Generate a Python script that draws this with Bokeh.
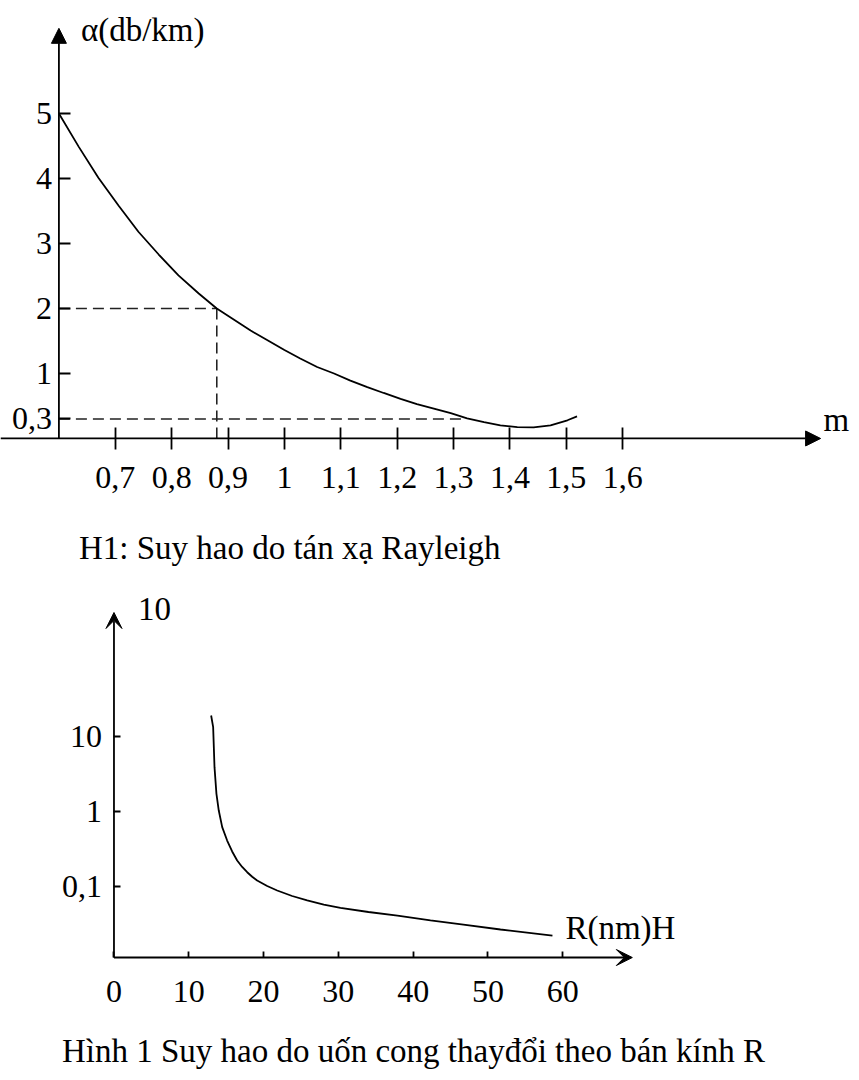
from bokeh.plotting import figure
from bokeh.models import (Range1d, LinearAxis, LogAxis, FixedTicker, Arrow,
                          NormalHead, VeeHead, Label)
from bokeh.layouts import column
from bokeh.embed import file_html
from bokeh.resources import INLINE

# ---------------- Chart 1 data: Rayleigh scattering loss ----------------
m_vals = [0.60, 0.635, 0.670, 0.706, 0.741, 0.777, 0.812, 0.848,
          0.88, 0.91, 0.94, 0.97, 1.0, 1.028, 1.058, 1.088, 1.117, 1.147,
          1.176, 1.206, 1.235, 1.265, 1.295, 1.324, 1.354, 1.383, 1.413,
          1.442, 1.472, 1.502, 1.519]
alpha_vals = [5.0, 4.49, 4.01, 3.58, 3.18, 2.83, 2.51, 2.23,
              2.0, 1.83, 1.66, 1.51, 1.36, 1.23, 1.10, 1.00, 0.89, 0.79,
              0.70, 0.61, 0.53, 0.46, 0.39, 0.31, 0.25, 0.20, 0.175,
              0.17, 0.20, 0.28, 0.34]
x1_ticks = [0.7, 0.8, 0.9, 1.0, 1.1, 1.2, 1.3, 1.4, 1.5, 1.6]
x1_labels = ["0,7", "0,8", "0,9", "1", "1,1", "1,2", "1,3", "1,4", "1,5", "1,6"]
y1_ticks = [5, 4, 3, 2, 1, 0.3]
y1_labels = ["5", "4", "3", "2", "1", "0,3"]
ref_m = [0.88, 1.32]        # guide points on the curve
ref_alpha = [2.0, 0.3]
x1_origin = 0.6
x1_tip = 1.951
y1_tip = 6.31

# ---------------- Chart 2 data: bending loss vs radius ----------------
R_vals = [12.99, 13.26, 13.44, 13.70, 14.01, 14.47, 15.13, 15.80, 16.47,
          17.14, 17.81, 18.48, 19.14, 20.48, 21.82, 23.82, 25.83, 28.05,
          30.28, 34.02, 37.90, 42.31, 46.72, 51.67, 58.62]
loss_vals = [19.05, 13.3, 3.90, 1.72, 1.03, 0.618, 0.410, 0.293, 0.222,
             0.182, 0.155, 0.135, 0.120, 0.1016, 0.0885, 0.0747, 0.0651, 0.0575,
             0.0520, 0.0457, 0.0410, 0.0354, 0.0310, 0.0267, 0.0222]
x2_ticks = [0, 10, 20, 30, 40, 50, 60]
x2_labels = ["0", "10", "20", "30", "40", "50", "60"]
y2_ticks = [10, 1, 0.1]
y2_labels = ["10", "1", "0,1"]
y2_base = 0.0113
x2_tip = 69.3
y2_tip = 450

FONT = "Liberation Serif"
FS = "33px"
TICK_FS = "32px"
W = 851


def base_fig(h, xr, yr, **kw):
    p = figure(width=W, height=h, x_range=xr, y_range=yr,
               output_backend="svg", toolbar_location=None,
               x_axis_location=None, y_axis_location=None,
               min_border=0, title=None, **kw)
    p.outline_line_color = None
    p.background_fill_color = "white"
    p.border_fill_color = "white"
    p.grid.visible = False
    return p


def style_axis(ax, tin, tout, standoff):
    ax.axis_line_color = None
    ax.major_tick_in = tin
    ax.major_tick_out = tout
    ax.major_tick_line_color = "black"
    ax.major_tick_line_width = 1.8
    ax.minor_tick_line_color = None
    ax.major_label_standoff = standoff
    ax.major_label_text_font = FONT
    ax.major_label_text_font_size = TICK_FS
    ax.major_label_text_color = "black"


def label(p, x, y, text, dx, dy):
    p.add_layout(Label(x=x, y=y, text=text, x_offset=dx, y_offset=dy,
                       text_align="left", text_baseline="middle",
                       text_font=FONT, text_font_size=FS, text_color="black"))


# ================= Figure 1 =================
p1 = base_fig(580, Range1d(0.4964, 2.0058), Range1d(-2.185, 6.738))

xa1 = LinearAxis(fixed_location=0, ticker=FixedTicker(ticks=x1_ticks),
                 major_label_overrides={t: l for t, l in zip(x1_ticks, x1_labels)})
style_axis(xa1, 11, 11, 18)
p1.add_layout(xa1, "below")

ya1 = LinearAxis(fixed_location=x1_origin, ticker=FixedTicker(ticks=y1_ticks),
                 major_label_overrides={t: l for t, l in zip(y1_ticks, y1_labels)})
style_axis(ya1, 12, 0, 7)
p1.add_layout(ya1, "left")

# axis lines with arrow heads
p1.add_layout(Arrow(end=NormalHead(size=15, fill_color="black", line_color="black"),
                    x_start=p1.x_range.start, y_start=0, x_end=x1_tip, y_end=0,
                    line_width=1.8, line_color="black"))
p1.add_layout(Arrow(end=NormalHead(size=15, fill_color="black", line_color="black"),
                    x_start=x1_origin, y_start=0, x_end=x1_origin, y_end=y1_tip,
                    line_width=1.8, line_color="black"))

# dashed guide lines
p1.segment(x0=[x1_origin] * 2, y0=ref_alpha, x1=ref_m, y1=ref_alpha,
           line_dash="11 6", line_color="#222222", line_width=1.6)
p1.segment(x0=ref_m[:1], y0=[0], x1=ref_m[:1], y1=ref_alpha[:1],
           line_dash="11 6", line_color="#222222", line_width=1.6)

# curve
p1.line(m_vals, alpha_vals, line_color="black", line_width=1.8)

label(p1, x1_origin, y1_tip, "α(db/km)", 22, -2)
label(p1, x1_tip, 0, "m", 3, 18)
label(p1, x1_origin, 0, "H1: Suy hao do tán xạ Rayleigh", 20, -110)

# ================= Figure 2 =================
p2 = base_fig(492, Range1d(-15.17, 98.6), Range1d(10 ** -3.48, 10 ** 3.08),
              y_axis_type="log")

xa2 = LinearAxis(fixed_location=y2_base, ticker=FixedTicker(ticks=x2_ticks),
                 major_label_overrides={t: l for t, l in zip(x2_ticks, x2_labels)})
style_axis(xa2, 6, 0, 23)
p2.add_layout(xa2, "below")

ya2 = LogAxis(fixed_location=0, ticker=FixedTicker(ticks=y2_ticks),
              major_label_overrides={t: l for t, l in zip(y2_ticks, y2_labels)})
style_axis(ya2, 7, 0, 12)
p2.add_layout(ya2, "left")

p2.add_layout(Arrow(end=VeeHead(size=16, fill_color="black", line_color="black"),
                    x_start=0, y_start=y2_base, x_end=x2_tip, y_end=y2_base,
                    line_width=1.8, line_color="black"))
p2.add_layout(Arrow(end=VeeHead(size=16, fill_color="black", line_color="black"),
                    x_start=0, y_start=y2_base, x_end=0, y_end=y2_tip,
                    line_width=1.8, line_color="black"))

p2.line(R_vals, loss_vals, line_color="black", line_width=1.8)

label(p2, 0, y2_tip, "10", 24, 4)
label(p2, R_vals[-1], loss_vals[-1], "R(nm)H", 13, 8)
label(p2, 0, y2_base, "Hình 1 Suy hao do uốn cong thayđổi theo bán kính R", -52, -93)

layout = column(p1, p2, spacing=0)
open("out.html", "w").write(file_html(layout, INLINE))
